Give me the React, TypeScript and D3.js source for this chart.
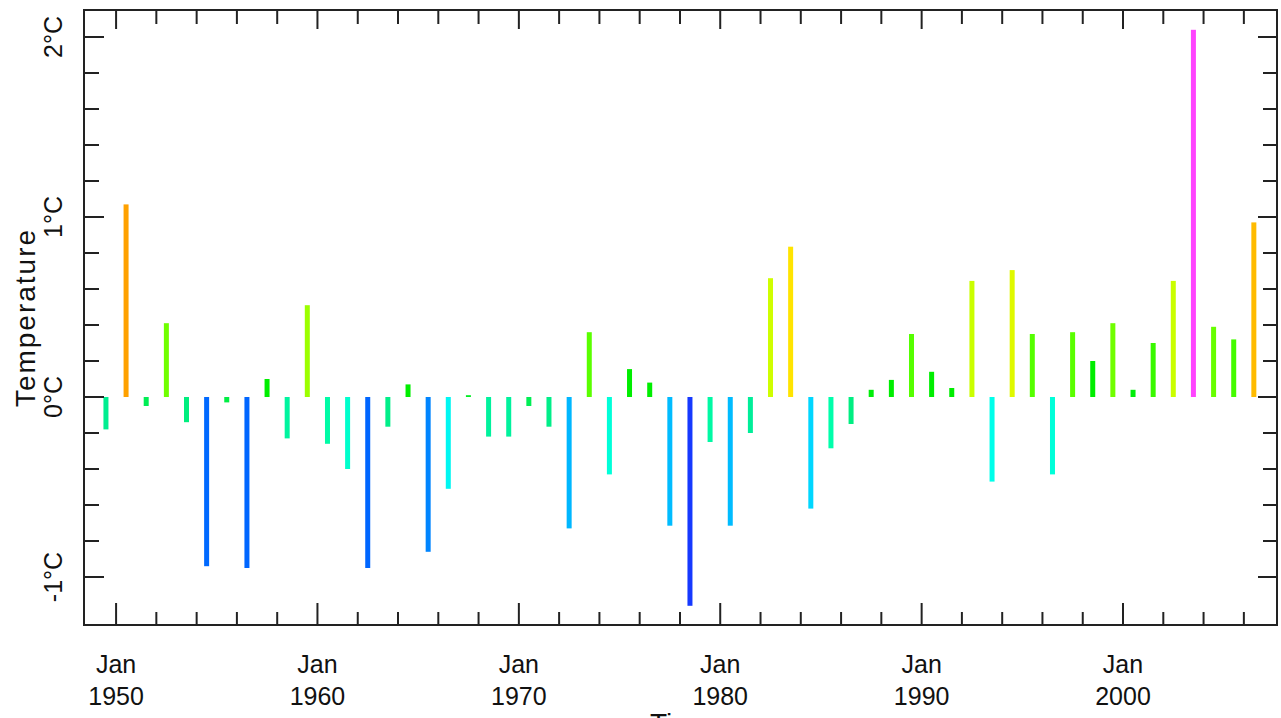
import React from "react";
import * as d3 from "d3";

// Annual temperature anomaly, one bar per year (plotted at mid-year)
const years: number[] = [
  1949, 1950, 1951, 1952, 1953, 1954, 1955, 1956, 1957, 1958,
  1959, 1960, 1961, 1962, 1963, 1964, 1965, 1966, 1967, 1968,
  1969, 1970, 1971, 1972, 1973, 1974, 1975, 1976, 1977, 1978,
  1979, 1980, 1981, 1982, 1983, 1984, 1985, 1986, 1987, 1988,
  1989, 1990, 1991, 1992, 1993, 1994, 1995, 1996, 1997, 1998,
  1999, 2000, 2001, 2002, 2003, 2004, 2005, 2006,
];

const anomalies: number[] = [
  -0.18, 1.07, -0.05, 0.41, -0.14, -0.94, -0.03, -0.95, 0.1, -0.23,
  0.51, -0.26, -0.4, -0.95, -0.165, 0.07, -0.86, -0.51, 0.01, -0.22,
  -0.22, -0.05, -0.165, -0.73, 0.36, -0.43, 0.155, 0.08, -0.715, -1.16,
  -0.25, -0.715, -0.2, 0.66, 0.835, -0.62, -0.285, -0.15, 0.04, 0.095,
  0.35, 0.14, 0.05, 0.645, -0.47, 0.705, 0.35, -0.43, 0.36, 0.2,
  0.41, 0.04, 0.3, 0.645, 2.04, 0.39, 0.32, 0.97,
];

const yLabelValues: number[] = [-1, 0, 1, 2];
const yLabelText: string[] = ["-1°C", "0°C", "1°C", "2°C"];
const decadeLabels: number[] = [1950, 1960, 1970, 1980, 1990, 2000];
const yearTicks: number[] = [
  1950, 1952, 1954, 1956, 1958, 1960, 1962, 1964, 1966, 1968, 1970,
  1972, 1974, 1976, 1978, 1980, 1982, 1984, 1986, 1988, 1990, 1992,
  1994, 1996, 1998, 2000, 2002, 2004, 2006,
];
const tempTicks: number[] = [
  -1, -0.8, -0.6, -0.4, -0.2, 0, 0.2, 0.4, 0.6, 0.8, 1, 1.2, 1.4, 1.6,
  1.8, 2,
];

// Rainbow colour ramp keyed on the anomaly value
const colorStops: number[] = [
  -1.2, -0.95, -0.85, -0.72, -0.6, -0.48, -0.4, -0.28, -0.2, -0.05, 0.05,
  0.2, 0.35, 0.5, 0.65, 0.8, 0.97, 1.1, 2.0,
];
const colorRamp: string[] = [
  "#1a30ff", "#0066ff", "#0088ff", "#00bbff", "#00ddff", "#00ffee",
  "#00ffcc", "#00ffaa", "#00ee99", "#00ee55", "#00ee00", "#00ee00",
  "#55ff00", "#99ff00", "#ccff00", "#ffee00", "#ffbb00", "#ff9900",
  "#ff44ff",
];

const W = 1281;
const H = 718;
const left = 84;
const right = 1277;
const top = 10;
const bottom = 625;
const ink = "#222";
const font = "'Liberation Sans', Arial, Helvetica, sans-serif";

export default function App() {
  const x = d3
    .scaleTime()
    .domain([new Date(1948, 4, 29), new Date(2007, 7, 25)])
    .range([left, right]);
  const y = d3.scaleLinear().domain([-1.2667, 2.15]).range([bottom, top]);
  const color = d3
    .scaleLinear<string>()
    .domain(colorStops)
    .range(colorRamp)
    .interpolate(d3.interpolateRgb)
    .clamp(true);

  const barW = 5;
  const y0 = y(0);

  return (
    <svg
      width={W}
      height={H}
      style={{ position: "absolute", left: 0, top: 0, background: "#fff" }}
      fontFamily={font}
    >
      <rect x={0} y={0} width={W} height={H} fill="#fff" />

      {/* bars */}
      {years.map((yr, i) => {
        const v = anomalies[i];
        const cx = x(new Date(yr, 6, 1));
        const yTop = y(Math.max(0, v));
        const yBot = y(Math.min(0, v));
        return (
          <rect
            key={yr}
            x={cx - barW / 2}
            y={yTop}
            width={barW}
            height={Math.max(1, yBot - yTop)}
            fill={color(v)}
          />
        );
      })}

      {/* frame */}
      <rect
        x={left}
        y={top}
        width={right - left}
        height={bottom - top}
        fill="none"
        stroke={ink}
        strokeWidth={2}
      />

      {/* x ticks, bottom and top */}
      {yearTicks.map((yr) => {
        const px = x(new Date(yr, 0, 1));
        const major = yr % 10 === 0;
        return (
          <g key={"xt" + yr} stroke={ink} strokeWidth={2}>
            <line x1={px} x2={px} y1={bottom} y2={bottom - (major ? 22 : 13)} />
            <line x1={px} x2={px} y1={top} y2={top + (major ? 19 : 14)} />
          </g>
        );
      })}

      {/* y ticks, left and right */}
      {tempTicks.map((t) => {
        const py = y(t);
        const major = Math.abs(t - Math.round(t)) < 1e-6;
        return (
          <g key={"yt" + t} stroke={ink} strokeWidth={2}>
            <line x1={left} x2={left + (major ? 20 : 15)} y1={py} y2={py} />
            <line x1={right} x2={right - (major ? 19 : 14)} y1={py} y2={py} />
          </g>
        );
      })}

      {/* x tick labels */}
      {decadeLabels.map((yr) => {
        const px = x(new Date(yr, 0, 1));
        return (
          <g key={"xl" + yr} fill="#111" fontSize={25} textAnchor="middle">
            <text x={px} y={673}>Jan</text>
            <text x={px} y={705}>{yr}</text>
          </g>
        );
      })}

      {/* y tick labels */}
      {yLabelValues.map((v, i) => (
        <text
          key={"yl" + v}
          transform={`translate(62,${y(v)}) rotate(-90)`}
          textAnchor="middle"
          fontSize={25}
          fill="#111"
        >
          {yLabelText[i]}
        </text>
      ))}

      {/* axis titles */}
      <text
        transform={`translate(35,${(top + bottom) / 2}) rotate(-90)`}
        textAnchor="middle"
        fontSize={28}
        letterSpacing={2}
        fill="#111"
      >
        Temperature
      </text>
      <text x={(left + right) / 2} y={733} textAnchor="middle" fontSize={28} fill="#111">
        Time
      </text>
    </svg>
  );
}
